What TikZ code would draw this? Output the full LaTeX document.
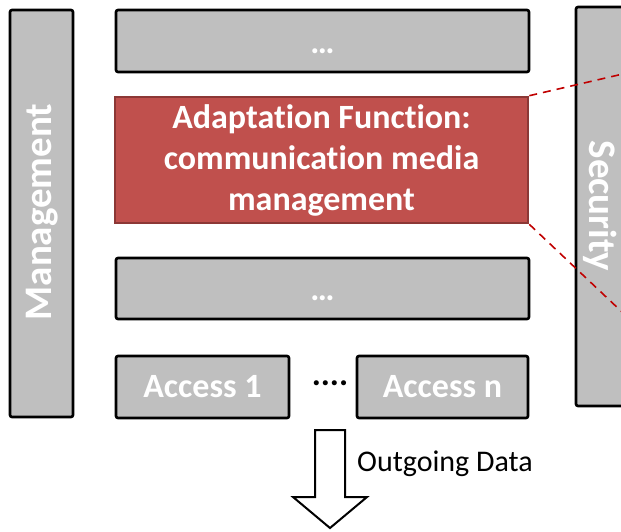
\documentclass[tikz,border=0pt]{standalone}
\usepackage{fontspec}
\setmainfont[Ligatures=NoCommon]{Carlito}
\definecolor{boxgrey}{HTML}{BFBFBF}
\definecolor{redfill}{HTML}{C0504D}
\definecolor{redline}{HTML}{8C3836}
\definecolor{dashred}{HTML}{C00000}
\begin{document}
\begin{tikzpicture}[x=1pt,y=-1pt,
  greybox/.style={draw=black,line width=2.6pt,fill=boxgrey,rounded corners=2pt,inner sep=0pt,
    text=white,font=\bfseries\fontsize{34}{41}\selectfont},
  dotsbox/.style={greybox,text height=24pt,text depth=0pt},
  redbox/.style={draw=redline,line width=2.6pt,fill=redfill,inner sep=0pt,align=center,
    text=white,font=\bfseries\fontsize{34}{41}\selectfont},
  sidetext/.style={text=white,inner sep=0pt,font=\bfseries\fontsize{39}{46}\selectfont},
  zoomline/.style={draw=dashred,line width=1.6pt,dash pattern=on 8pt off 6pt}]
\useasboundingbox (0,0) rectangle (621,531);
% side boxes
\node[greybox,minimum width=63pt,minimum height=407pt] (mg) at (41.5,213.5) {};
\node[sidetext,rotate=90] (mgt) at (42,212) {Management};
\node[greybox,minimum width=64pt,minimum height=399pt] (sec) at (608,206.5) {};
\node[sidetext,rotate=-90] (sect) at (600,206) {Security};
% stack
\node[dotsbox,minimum width=413pt,minimum height=62pt] (top) at (322.5,41) {…};
\node[redbox,minimum width=413pt,minimum height=126pt] (red) at (321.5,160)
  {Adaptation Function:\\communication media\\management};
\node[dotsbox,minimum width=413pt,minimum height=61pt] (mid) at (322.5,288.5) {…};
\node[greybox,minimum width=173pt,minimum height=62pt] (acc1) at (202.5,387) {Access 1};
\node[greybox,minimum width=171pt,minimum height=62pt] (accn) at (442.5,387) {Access n};
\node[inner sep=0pt,font=\bfseries\fontsize{34}{41}\selectfont,anchor=base] (dots) at (330,385) {....};
% zoom lines
\coordinate (z1) at (640,70);
\coordinate (z2) at (640,329);
\draw[zoomline] (red.north east) -- (z1);
\draw[zoomline] (red.south east) -- (z2);
% outgoing arrow
\draw[line width=2pt,fill=white,line join=miter]
  (315,430) -- (345,430) -- (345,497) -- (367,497) -- (330,528) -- (293,497) -- (315,497) -- cycle;
\node[anchor=west,inner sep=0pt,font=\fontsize{30}{36}\selectfont] (out) at (357,464) {Outgoing Data};
\end{tikzpicture}
\end{document}
